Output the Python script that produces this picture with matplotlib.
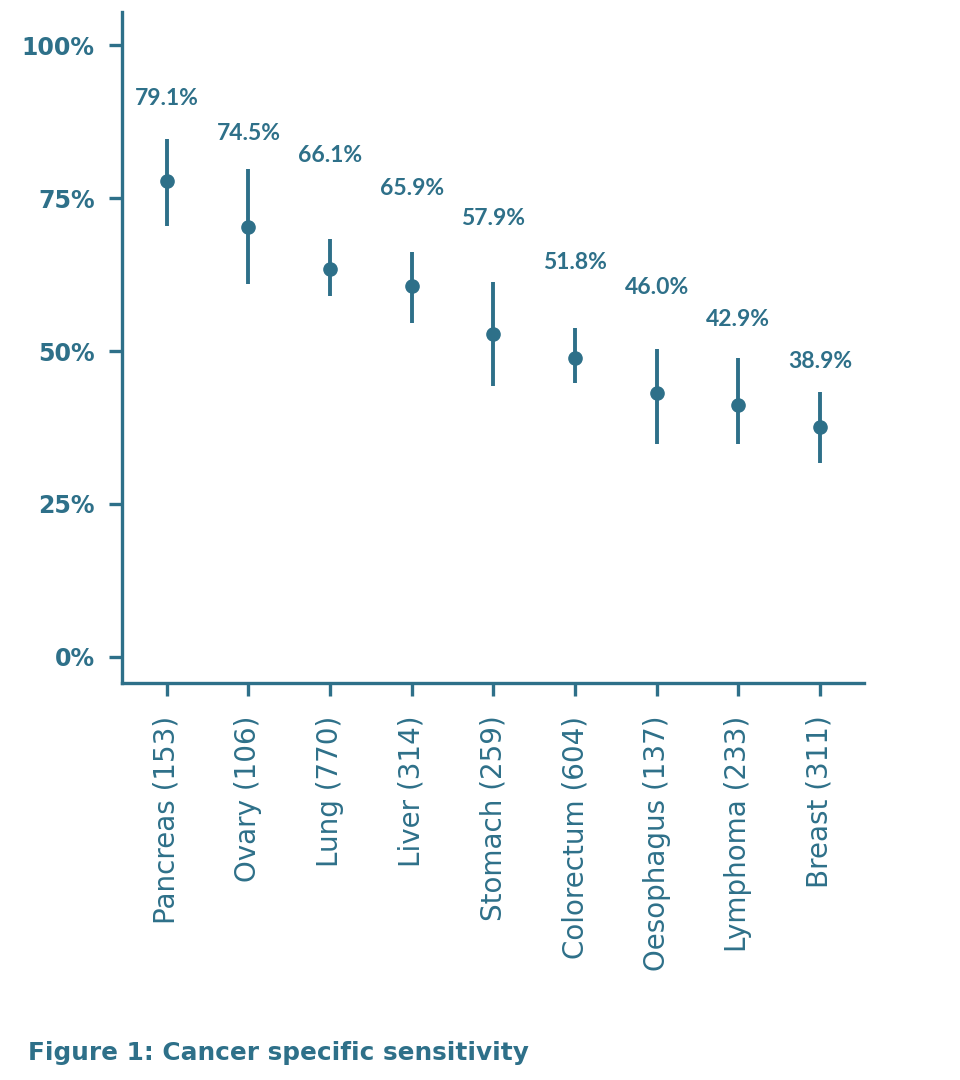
import matplotlib
matplotlib.use("Agg")
import matplotlib.pyplot as plt

TEAL = "#2e7089"

# cancer types with sample size
cancers = ["Pancreas (153)", "Ovary (106)", "Lung (770)", "Liver (314)", "Stomach (259)",
           "Colorectum (604)", "Oesophagus (137)", "Lymphoma (233)", "Breast (311)"]
point = [77.8, 70.3, 63.4, 60.6, 52.8, 48.9, 43.1, 41.1, 37.6]
ci_low = [70.5, 61.0, 59.0, 54.5, 44.3, 44.8, 34.8, 34.8, 31.7]
ci_high = [84.6, 79.8, 68.3, 66.2, 61.2, 53.8, 50.4, 48.9, 43.3]
labels = ["79.1%", "74.5%", "66.1%", "65.9%", "57.9%", "51.8%", "46.0%", "42.9%", "38.9%"]
label_y = [91.3, 85.6, 82.0, 76.6, 71.6, 64.5, 60.3, 55.2, 48.3]
yticks = [0, 25, 50, 75, 100]

plt.rcParams["font.family"] = ["DejaVu Sans"]

fig = plt.figure(figsize=(9.6, 10.8), dpi=100)
ax = fig.add_axes([0.127, 0.3676, 0.773, 0.6213])

x = list(range(len(cancers)))
for i in x:
    ax.plot([i, i], [ci_low[i], ci_high[i]], color=TEAL, lw=2.8, solid_capstyle="butt")
ax.plot(x, point, "o", color=TEAL, markersize=9.5)

for i in x:
    ax.text(i, label_y[i], labels[i], ha="center", va="center", fontsize=16.5,
            color=TEAL, fontweight="bold", family=["Lato", "DejaVu Sans"])

ax.set_xlim(-0.55, 8.54)
ax.set_ylim(-4.25, 105.4)
ax.set_xticks(x)
ax.set_xticklabels(cancers, rotation=90, fontsize=20, color=TEAL, va="top")
ax.set_yticks(yticks)
ax.set_yticklabels([f"{v}%" for v in yticks], fontsize=17, color=TEAL, fontweight="bold")

for s in ["top", "right"]:
    ax.spines[s].set_visible(False)
for s in ["left", "bottom"]:
    ax.spines[s].set_color(TEAL)
    ax.spines[s].set_linewidth(2.4)
ax.tick_params(axis="both", color=TEAL, width=2.4, length=9.5)
ax.tick_params(axis="x", pad=14)
ax.tick_params(axis="y", pad=10)

fig.text(0.029, 0.025, "Figure 1: Cancer specific sensitivity", fontsize=17.8,
         color=TEAL, fontweight="bold", ha="left", va="center")

fig.savefig("out.png", dpi=100, facecolor="white")
